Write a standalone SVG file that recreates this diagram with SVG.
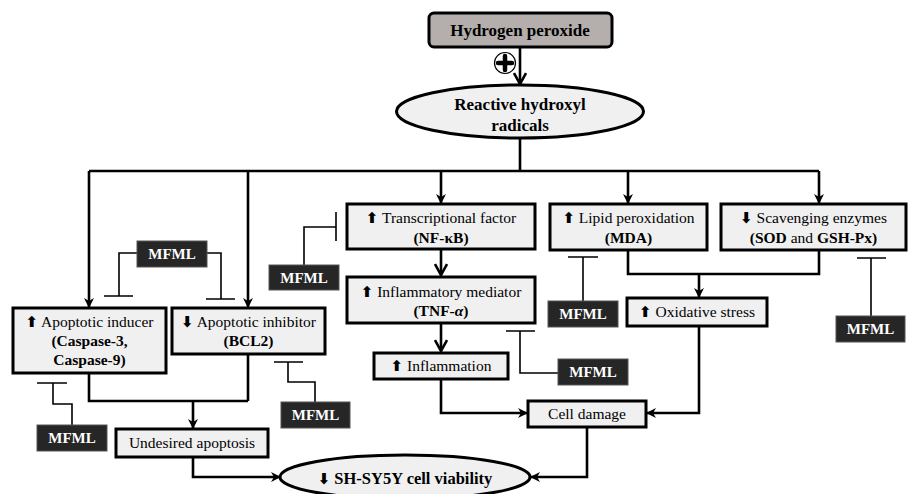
<svg xmlns="http://www.w3.org/2000/svg" width="909" height="494" viewBox="0 0 909 494">
<defs>
<marker id="tri" viewBox="0 0 10 10" refX="9" refY="5" markerWidth="10" markerHeight="10" markerUnits="userSpaceOnUse" orient="auto">
<path d="M0,0 L10,5 L0,10 L3,5 Z" fill="#000"/>
</marker>
<marker id="chev" viewBox="0 0 14 14" refX="12" refY="7" markerWidth="14" markerHeight="14" markerUnits="userSpaceOnUse" orient="auto">
<path d="M1,1 L12,7 L1,13" fill="none" stroke="#000" stroke-width="2.6"/>
</marker>
</defs>
<style>
text{font-family:'Liberation Serif',serif !important}
.box{fill:#f0f0f0;stroke:#000;stroke-width:3}
.t{font-size:15.5px;text-anchor:middle;fill:#000}
.b{font-weight:bold}
.ar{font-weight:bold;font-size:15px;font-family:'DejaVu Sans',sans-serif !important}
.m rect{fill:#262626;stroke:#555;stroke-width:1}
.m text{fill:#fff;font-weight:bold;font-size:15px;text-anchor:middle}
.inh{fill:none;stroke:#000;stroke-width:1.6}
.c{fill:none;stroke:#000;stroke-width:2.6}
</style>

<g id="connectors">
<path class="c" d="M520,47 V84" marker-end="url(#chev)"/>
<path class="c" d="M520,138 V171 M89,171 H819"/>
<path class="c" d="M89,171 V307" marker-end="url(#tri)"/>
<path class="c" d="M248,171 V307" marker-end="url(#tri)"/>
<path class="c" d="M441,171 V203" marker-end="url(#tri)"/>
<path class="c" d="M628,171 V203" marker-end="url(#tri)"/>
<path class="c" d="M819,171 V203" marker-end="url(#tri)"/>
<path class="c" d="M441,249 V275" marker-end="url(#chev)"/>
<path class="c" d="M441,323 V351" marker-end="url(#chev)"/>
<path class="c" d="M89,373 V401 H248 M248,354 V401"/>
<path class="c" d="M193,401 V428" marker-end="url(#tri)"/>
<path class="c" d="M193,457 V477 H280" marker-end="url(#tri)"/>
<path class="c" d="M628,250 V274 H819 V250"/>
<path class="c" d="M699,274 V297" marker-end="url(#tri)"/>
<path class="c" d="M699,326 V413 H647" marker-end="url(#tri)"/>
<path class="c" d="M441,379 V413 H527" marker-end="url(#tri)"/>
<path class="c" d="M587,427 V477 H531" marker-end="url(#tri)"/>
<path class="inh" d="M137,253 H119 V296 M104,296 H133"/>
<path class="inh" d="M207,253 H221 V299 M206,299 H235"/>
<path class="inh" d="M304,265 V227 H336 M336,212 V241"/>
<path class="inh" d="M72,425 V404 H53 V383 M37,383 H67"/>
<path class="inh" d="M315,402 V382 H288 V362 M274,362 H303"/>
<path class="inh" d="M583,301 V257 M568,257 H598"/>
<path class="inh" d="M558,373 H520 V331 M506,331 H535"/>
<path class="inh" d="M871,316 V258 M857,258 H886"/>
</g>

<g id="hydrogen-peroxide">
<rect x="429" y="13" width="183" height="34" rx="5" fill="#b4afac" stroke="#000" stroke-width="3"/>
<text class="t b" x="520" y="36" style="font-family:'Liberation Serif',serif;font-size:17px">Hydrogen peroxide</text>
</g>
<g id="plus">
<circle cx="505" cy="63" r="10.5" fill="#fff" stroke="#000" stroke-width="1.2"/>
<path d="M505,56 V70 M498,63 H512" stroke="#000" stroke-width="4.5" stroke-linecap="round"/>
</g>
<g id="radicals">
<ellipse cx="520" cy="111.5" rx="123.5" ry="26.5" class="box"/>
<text class="t b" x="520" y="110" style="font-family:'Liberation Serif',serif;font-size:17px">Reactive hydroxyl</text>
<text class="t b" x="520" y="131" style="font-family:'Liberation Serif',serif;font-size:17px">radicals</text>
</g>

<g id="apoptotic-inducer">
<rect class="box" x="13" y="308" width="153" height="65"/>
<text class="t" x="89.5" y="327" style="font-family:'Liberation Serif',serif"><tspan class="ar" style="font-family:'DejaVu Sans',sans-serif">⬆</tspan> Apoptotic inducer</text>
<text class="t b" x="89.5" y="346" style="font-family:'Liberation Serif',serif">(Caspase-3,</text>
<text class="t b" x="89.5" y="365" style="font-family:'Liberation Serif',serif">Caspase-9)</text>
</g>
<g id="apoptotic-inhibitor">
<rect class="box" x="172" y="308" width="153" height="46"/>
<text class="t" x="248.5" y="327" style="font-family:'Liberation Serif',serif"><tspan class="ar" style="font-family:'DejaVu Sans',sans-serif">⬇</tspan> Apoptotic inhibitor</text>
<text class="t b" x="248.5" y="346" style="font-family:'Liberation Serif',serif">(BCL2)</text>
</g>
<g id="transcriptional-factor">
<rect class="box" x="347" y="204" width="188" height="45"/>
<text class="t" x="441" y="223" style="font-family:'Liberation Serif',serif"><tspan class="ar" style="font-family:'DejaVu Sans',sans-serif">⬆</tspan>  Transcriptional factor</text>
<text class="t b" x="441" y="243" style="font-family:'Liberation Serif',serif">(NF-κB)</text>
</g>
<g id="inflammatory-mediator">
<rect class="box" x="347" y="277" width="188" height="46"/>
<text class="t" x="441" y="297" style="font-family:'Liberation Serif',serif"><tspan class="ar" style="font-family:'DejaVu Sans',sans-serif">⬆</tspan>  Inflammatory mediator</text>
<text class="t b" x="441" y="316" style="font-family:'Liberation Serif',serif">(TNF-<tspan font-style="italic">α</tspan>)</text>
</g>
<g id="inflammation">
<rect class="box" x="374" y="353" width="134" height="26"/>
<text class="t" x="441" y="371" style="font-family:'Liberation Serif',serif"><tspan class="ar" style="font-family:'DejaVu Sans',sans-serif">⬆</tspan>  Inflammation</text>
</g>
<g id="lipid-peroxidation">
<rect class="box" x="550" y="204" width="157" height="46"/>
<text class="t" x="628.5" y="223" style="font-family:'Liberation Serif',serif"><tspan class="ar" style="font-family:'DejaVu Sans',sans-serif">⬆</tspan>  Lipid peroxidation</text>
<text class="t b" x="628.5" y="243" style="font-family:'Liberation Serif',serif">(MDA)</text>
</g>
<g id="scavenging-enzymes">
<rect class="box" x="721" y="204" width="185" height="46"/>
<text class="t" x="813.5" y="223" style="font-family:'Liberation Serif',serif"><tspan class="ar" style="font-family:'DejaVu Sans',sans-serif">⬇</tspan> Scavenging enzymes</text>
<text class="t" x="813.5" y="243" style="font-family:'Liberation Serif',serif"><tspan class="b">(SOD</tspan> and <tspan class="b">GSH-Px)</tspan></text>
</g>
<g id="oxidative-stress">
<rect class="box" x="627" y="298" width="140" height="28"/>
<text class="t" x="697" y="317" style="font-family:'Liberation Serif',serif"><tspan class="ar" style="font-family:'DejaVu Sans',sans-serif">⬆</tspan>  Oxidative stress</text>
</g>
<g id="cell-damage">
<rect class="box" x="528" y="401" width="118" height="26"/>
<text class="t" x="587" y="419" style="font-family:'Liberation Serif',serif">Cell damage</text>
</g>
<g id="undesired-apoptosis">
<rect class="box" x="116" y="429" width="152" height="28"/>
<text class="t" x="192" y="448" style="font-family:'Liberation Serif',serif">Undesired apoptosis</text>
</g>
<g id="cell-viability">
<ellipse class="box" cx="405" cy="477" rx="125" ry="22"/>
<text class="t b" x="405" y="484" style="font-family:'Liberation Serif',serif;font-size:16.5px"><tspan class="ar" style="font-family:'DejaVu Sans',sans-serif">⬇</tspan> SH-SY5Y cell viability</text>
</g>

<g id="mfml-1" class="m"><rect x="137" y="241" width="70" height="26"/><text x="172" y="259" style="font-family:'Liberation Serif',serif">MFML</text></g>
<g id="mfml-2" class="m"><rect x="269" y="265" width="70" height="25"/><text x="304" y="283" style="font-family:'Liberation Serif',serif">MFML</text></g>
<g id="mfml-3" class="m"><rect x="37" y="425" width="70" height="26"/><text x="72" y="443" style="font-family:'Liberation Serif',serif">MFML</text></g>
<g id="mfml-4" class="m"><rect x="281" y="402" width="69" height="26"/><text x="315.5" y="420" style="font-family:'Liberation Serif',serif">MFML</text></g>
<g id="mfml-5" class="m"><rect x="548" y="301" width="70" height="26"/><text x="583" y="319" style="font-family:'Liberation Serif',serif">MFML</text></g>
<g id="mfml-6" class="m"><rect x="558" y="359" width="70" height="26"/><text x="593" y="377" style="font-family:'Liberation Serif',serif">MFML</text></g>
<g id="mfml-7" class="m"><rect x="836" y="316" width="69" height="26"/><text x="870.5" y="334" style="font-family:'Liberation Serif',serif">MFML</text></g>
</svg>
